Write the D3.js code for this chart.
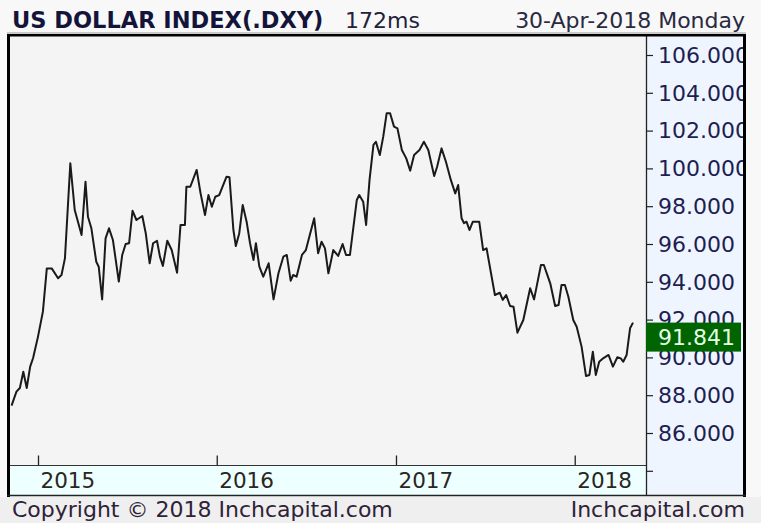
<!DOCTYPE html>
<html>
<head>
<meta charset="utf-8">
<script src="https://cdn.jsdelivr.net/npm/d3@7"></script>
<style>
  html, body { margin: 0; padding: 0; background: #f8f8f8; }
  svg { display: block; }
  text { font-family: "DejaVu Sans", Verdana, sans-serif; }
</style>
</head>
<body>
<svg id="chart" width="761" height="523"></svg>
<script>
// ---- data (weekly-ish closes) ----
const dates = [
  "2014-11-08","2014-11-18","2014-11-25","2014-12-02","2014-12-09","2014-12-16","2014-12-22",
  "2015-01-01","2015-01-11","2015-01-19","2015-01-29","2015-02-11","2015-02-18","2015-02-25",
  "2015-03-08","2015-03-17","2015-03-31","2015-04-08","2015-04-13","2015-04-20","2015-04-30",
  "2015-05-05","2015-05-12","2015-05-19","2015-05-26","2015-06-03","2015-06-15","2015-06-22",
  "2015-06-29","2015-07-06","2015-07-13","2015-07-21","2015-08-02","2015-08-09","2015-08-17",
  "2015-08-24","2015-09-01","2015-09-07","2015-09-13","2015-09-22","2015-10-01","2015-10-12",
  "2015-10-19","2015-10-28","2015-10-31","2015-11-08","2015-11-21","2015-11-29","2015-12-08",
  "2015-12-15","2015-12-22","2015-12-29","2016-01-06","2016-01-21","2016-01-27","2016-02-04",
  "2016-02-09","2016-02-16","2016-02-23","2016-03-02","2016-03-09","2016-03-16","2016-03-21",
  "2016-03-28","2016-04-05","2016-04-16","2016-04-26","2016-05-06","2016-05-16","2016-05-23",
  "2016-05-31","2016-06-05","2016-06-12","2016-06-23","2016-07-01","2016-07-09","2016-07-18",
  "2016-07-26","2016-08-02","2016-08-09","2016-08-16","2016-08-26","2016-09-05","2016-09-14",
  "2016-09-21","2016-09-29","2016-10-13","2016-10-18","2016-10-26","2016-11-01","2016-11-08",
  "2016-11-16","2016-11-21","2016-11-29","2016-12-06","2016-12-13","2016-12-20","2016-12-28",
  "2017-01-04","2017-01-13","2017-01-22","2017-01-30","2017-02-07","2017-02-18","2017-02-27",
  "2017-03-08","2017-03-20","2017-03-26","2017-04-04","2017-04-13","2017-04-23","2017-05-02",
  "2017-05-08","2017-05-15","2017-05-20","2017-05-25","2017-05-31","2017-06-07","2017-06-20",
  "2017-06-28","2017-07-05","2017-07-22","2017-08-01","2017-08-07","2017-08-14","2017-08-22",
  "2017-08-29","2017-09-06","2017-09-18","2017-10-02","2017-10-10","2017-10-24","2017-10-30",
  "2017-11-12","2017-11-22","2017-11-29","2017-12-05","2017-12-12","2017-12-19","2017-12-29",
  "2018-01-05","2018-01-15","2018-01-24","2018-01-31","2018-02-07","2018-02-13","2018-02-20",
  "2018-02-28","2018-03-11","2018-03-20","2018-03-29","2018-04-05","2018-04-10","2018-04-17",
  "2018-04-24","2018-04-30"
];
const closes = [
  87.45,88.19,88.38,89.24,88.38,89.51,89.97,
  91.10,92.42,94.71,94.71,94.19,94.36,95.24,
  100.27,97.80,96.48,99.30,97.44,96.83,95.06,
  94.80,93.07,96.30,96.83,96.21,94.01,95.42,
  96.00,96.04,97.76,97.27,97.48,96.57,94.98,
  96.04,96.17,95.33,94.84,96.17,95.68,94.48,
  97.01,97.01,99.03,99.03,99.92,98.68,97.53,
  98.59,97.97,98.50,98.59,99.56,99.53,96.74,
  95.89,96.57,98.06,97.18,96.04,95.15,96.04,
  94.80,94.27,94.98,93.07,94.45,95.33,95.42,
  94.06,94.36,94.27,95.42,95.68,96.48,97.36,
  95.51,96.12,95.77,94.45,95.68,95.37,96.00,
  95.42,95.42,98.33,98.59,98.24,97.01,99.39,
  101.24,101.41,100.71,101.68,102.92,102.92,102.21,
  102.12,100.97,100.53,99.88,100.71,100.97,101.41,
  100.97,99.60,100.09,101.06,100.35,99.39,98.68,
  99.12,97.36,97.10,97.18,96.74,97.18,97.18,
  95.68,95.77,93.30,93.42,93.04,93.30,92.72,
  92.68,91.31,91.98,93.66,93.07,94.89,94.89,
  93.92,92.72,92.77,93.83,93.83,93.21,91.98,
  91.62,90.57,89.02,89.07,90.30,89.07,89.77,
  89.95,90.13,89.51,90.01,89.95,89.77,90.13,
  91.54,91.841
];
const yTicks = [84, 86, 88, 90, 92, 94, 96, 98, 100, 102, 104, 106];
const yearTicks = ["2015-01-01", "2016-01-01", "2017-01-01", "2018-01-01"];
const titleText = "US DOLLAR INDEX(.DXY)";
const timingText = "172ms";
const dateText = "30-Apr-2018 Monday";
const footerLeft = "Copyright © 2018 Inchcapital.com";
const footerRight = "Inchcapital.com";
const lastLabel = "91.841";

// ---- layout ----
const svg = d3.select("#chart");
const parse = d3.timeParse("%Y-%m-%d");
const data = dates.map((d, i) => ({ date: parse(d), value: closes[i] }));

const plot = { left: 10, top: 36, right: 646, bottom: 465 };
const panelRight = 743;
const bandBottom = 495;

const x = d3.scaleTime()
  .domain([parse("2015-01-01"), parse("2018-04-30")])
  .range([38, 633]);
const y = d3.scaleLinear().domain([86, 106]).range([433, 55]);

// backgrounds
svg.append("rect").attr("x", 0).attr("y", 0).attr("width", 761).attr("height", 523).attr("fill", "#f8f8f8");
svg.append("rect").attr("x", 0).attr("y", 497).attr("width", 761).attr("height", 26).attr("fill", "#efefef");
svg.append("rect").attr("x", plot.left).attr("y", plot.top)
  .attr("width", plot.right - plot.left).attr("height", plot.bottom - plot.top).attr("fill", "#f4f4f4");
svg.append("rect").attr("x", plot.left).attr("y", plot.bottom + 1)
  .attr("width", plot.right - plot.left).attr("height", bandBottom - plot.bottom - 1).attr("fill", "#eeffff");
svg.append("rect").attr("x", plot.right + 1).attr("y", plot.top)
  .attr("width", panelRight - plot.right - 1).attr("height", bandBottom - plot.top).attr("fill", "#eef5ff");

// clip paths
const defs = svg.append("defs");
defs.append("clipPath").attr("id", "plotClip").append("rect")
  .attr("x", plot.left).attr("y", plot.top)
  .attr("width", plot.right - plot.left).attr("height", plot.bottom - plot.top);
defs.append("clipPath").attr("id", "panelClip").append("rect")
  .attr("x", plot.right).attr("y", plot.top)
  .attr("width", panelRight - plot.right).attr("height", bandBottom - plot.top);

// x axis (ticks pointing up, labels in the band)
const xAxis = d3.axisBottom(x)
  .tickValues(yearTicks.map(parse))
  .tickFormat(d3.timeFormat("%Y"))
  .tickSize(-10)
  .tickSizeOuter(0);
const gx = svg.append("g").attr("transform", `translate(0,${plot.bottom + 0.5})`).call(xAxis);
gx.select(".domain").remove();
gx.selectAll(".tick line").attr("stroke", "#222").attr("stroke-width", 1.3);
gx.selectAll(".tick text")
  .attr("text-anchor", "start").attr("x", 2).attr("y", 22).attr("dy", null)
  .attr("font-size", 21.5).attr("fill", "#2a2620");

// axis lines
svg.append("line").attr("x1", plot.left).attr("x2", plot.right)
  .attr("y1", plot.bottom + 0.5).attr("y2", plot.bottom + 0.5).attr("stroke", "#333");
svg.append("line").attr("x1", plot.right + 0.5).attr("x2", plot.right + 0.5)
  .attr("y1", plot.top).attr("y2", bandBottom).attr("stroke", "#222").attr("stroke-width", 1.3);

// y axis on the right
const yAxis = d3.axisRight(y)
  .tickValues(yTicks)
  .tickFormat(d => d < 86 ? "" : d3.format(".3f")(d))
  .tickSize(6)
  .tickPadding(5)
  .tickSizeOuter(0);
const gy = svg.append("g").attr("clip-path", "url(#panelClip)")
  .append("g").attr("transform", `translate(${plot.right + 1},0)`).call(yAxis);
gy.select(".domain").remove();
gy.selectAll(".tick line").attr("stroke", "#222").attr("stroke-width", 1.2);
gy.selectAll(".tick text").attr("font-size", 22).attr("fill", "#1e1e52").attr("dy", "0.33em");

// price line
const line = d3.line().x(d => x(d.date)).y(d => y(d.value));
svg.append("path").datum(data)
  .attr("clip-path", "url(#plotClip)")
  .attr("d", line)
  .attr("fill", "none")
  .attr("stroke", "#1a1a1a")
  .attr("stroke-width", 2)
  .attr("stroke-linejoin", "round");

// last price label
const last = data[data.length - 1];
const ly = y(last.value);
svg.append("rect").attr("x", plot.right).attr("y", ly)
  .attr("width", 95).attr("height", 29).attr("fill", "#006400");
svg.append("text").attr("x", 658).attr("y", ly + 22.5)
  .attr("font-size", 22).attr("fill", "#e4ffe4").text(lastLabel);

// frame
svg.append("line").attr("x1", 7).attr("x2", 746).attr("y1", 33).attr("y2", 33).attr("stroke", "#9a9a9a");
svg.append("rect").attr("x", 7).attr("y", 34).attr("width", 739).attr("height", 2.5).attr("fill", "#000");
svg.append("rect").attr("x", 7).attr("y", 34).attr("width", 3).attr("height", 463).attr("fill", "#000");
svg.append("rect").attr("x", 743).attr("y", 34).attr("width", 3).attr("height", 463).attr("fill", "#000");
svg.append("line").attr("x1", 7).attr("x2", 746).attr("y1", 495.5).attr("y2", 495.5).attr("stroke", "#222").attr("stroke-width", 1.5);

// header
svg.append("text").attr("x", 12).attr("y", 28).attr("font-size", 22.5).attr("font-weight", "bold")
  .attr("fill", "#14143a").text(titleText);
svg.append("text").attr("x", 345).attr("y", 28).attr("font-size", 22)
  .attr("fill", "#22223a").text(timingText);
svg.append("text").attr("x", 745).attr("y", 28).attr("font-size", 22).attr("text-anchor", "end")
  .attr("fill", "#2a2a40").text(dateText);

// footer
svg.append("text").attr("x", 12).attr("y", 517).attr("font-size", 22)
  .attr("fill", "#2e2238").text(footerLeft);
svg.append("text").attr("x", 745).attr("y", 517).attr("font-size", 22).attr("text-anchor", "end")
  .attr("fill", "#2e2238").text(footerRight);
</script>
</body>
</html>
